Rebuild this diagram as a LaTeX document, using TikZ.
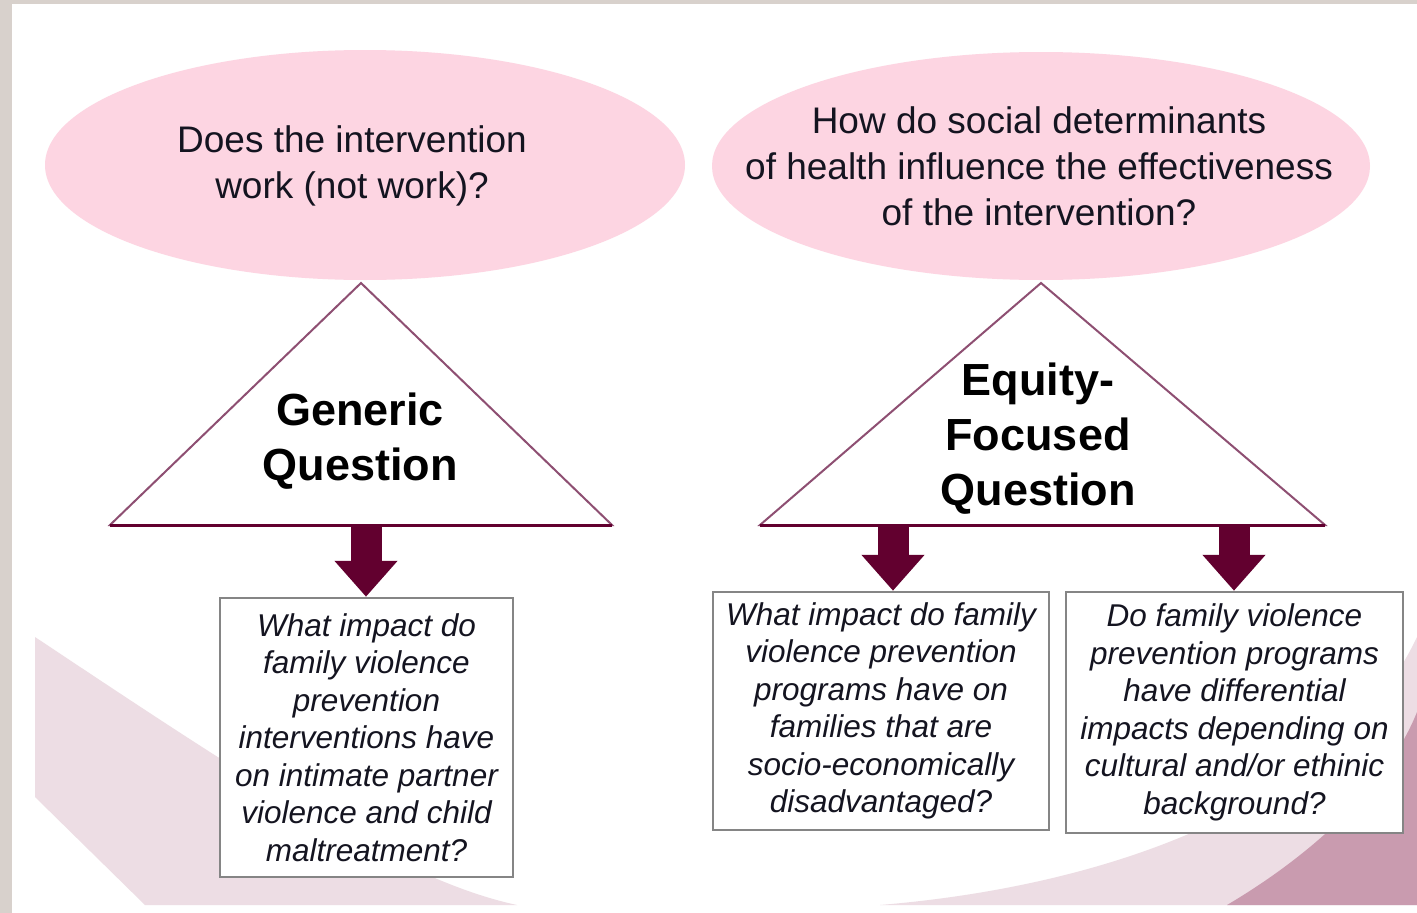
\documentclass[tikz,border=0pt]{standalone}
\usepackage{fontspec}
\setmainfont{Liberation Sans}
\usetikzlibrary{shapes.geometric,arrows.meta}
\definecolor{framegray}{HTML}{D8D1CC}
\definecolor{bandlight}{HTML}{EDDDE4}
\definecolor{banddark}{HTML}{C99BAF}
\definecolor{ellpink}{HTML}{FDD5E2}
\definecolor{triline}{HTML}{8E4F72}
\definecolor{maroonarrow}{HTML}{62002F}
\definecolor{boxgray}{HTML}{858585}
\definecolor{txt}{HTML}{141420}
\begin{document}
\begin{tikzpicture}[x=1pt,y=-1pt,
  ellfill/.style={fill=ellpink},
  elltext/.style={inner sep=0pt, align=center,
    font=\fontsize{37}{46}\selectfont, text=txt},
  tri/.style={draw=triline, line width=2pt, fill=white, line join=miter},
  tribase/.style={draw=maroonarrow, line width=3pt},
  trilabel/.style={align=center, text=black, font=\bfseries\fontsize{45}{55}\selectfont},
  qbox/.style={draw=boxgray, line width=2.5pt, fill=white, align=center,
    inner sep=0pt, text=txt, font=\itshape\fontsize{31.5}{37.5}\selectfont},
  blockarrow/.style={draw=maroonarrow, line width=31pt,
    -{Triangle[width=61pt,length=36pt]}}
]
\useasboundingbox (0,0) rectangle (1417,913);
% frame and slide background
\fill[framegray] (0,0) rectangle (1417,913);
\fill[white] (12,4) rectangle (1417,913);
% background swooshes
\fill[bandlight] (35,637) .. controls (250,780) and (400,880) .. (517,905)
  -- (145,905) -- (35,797) -- cycle;
\fill[bandlight] (880,905) .. controls (1120,885) and (1340,800) .. (1417,637)
  -- (1417,905) -- cycle;
\fill[banddark] (1227,905) .. controls (1320,850) and (1390,780) .. (1417,712)
  -- (1417,905) -- cycle;

% ellipses
\fill[ellfill] (365,165) ellipse [x radius=320, y radius=115];
\node[elltext] (q1) at (352,166)
  {Does the intervention\\work (not work)?};
\fill[ellfill] (1041,166) ellipse [x radius=329, y radius=114];
\node[elltext] (q2) at (1039,166)
  {How do social determinants\\of health influence the effectiveness\\of the intervention?};

% triangles
\draw[tri] (361,283) -- (612,525) -- (110,525) -- cycle;
\draw[tribase] (110,525) -- (612,525);
\node[trilabel] (t1) at (360,441) {Generic\\Question};
\draw[tri] (1041,283) -- (1325,525) -- (760,525) -- cycle;
\draw[tribase] (760,525) -- (1325,525);
\node[trilabel] (t2) at (1038,439) {Equity-\\Focused\\Question};

\coordinate (a1) at (366,524);
\coordinate (a2) at (893,524);
\coordinate (a3) at (1234,524);

% question boxes
\node[qbox, minimum width=293pt, minimum height=279pt] (b1) at (366.5,737.5)
  {What impact do\\family violence\\prevention\\interventions have\\on intimate partner\\violence and child\\maltreatment?};
\node[qbox, minimum width=336pt, minimum height=238pt] (b2) at (881,711)
  {What impact do family\\violence prevention\\programs have on\\families that are\\socio-economically\\disadvantaged?};
\node[qbox, minimum width=337pt, minimum height=241pt] (b3) at (1234.5,712.5)
  {Do family violence\\prevention programs\\have differential\\impacts depending on\\cultural and/or ethinic\\background?};

% block arrows
\draw[blockarrow] (a1) -- (a1 |- b1.north);
\draw[blockarrow] (a2) -- (a2 |- b2.north);
\draw[blockarrow] (a3) -- (a3 |- b3.north);
\end{tikzpicture}
\end{document}
